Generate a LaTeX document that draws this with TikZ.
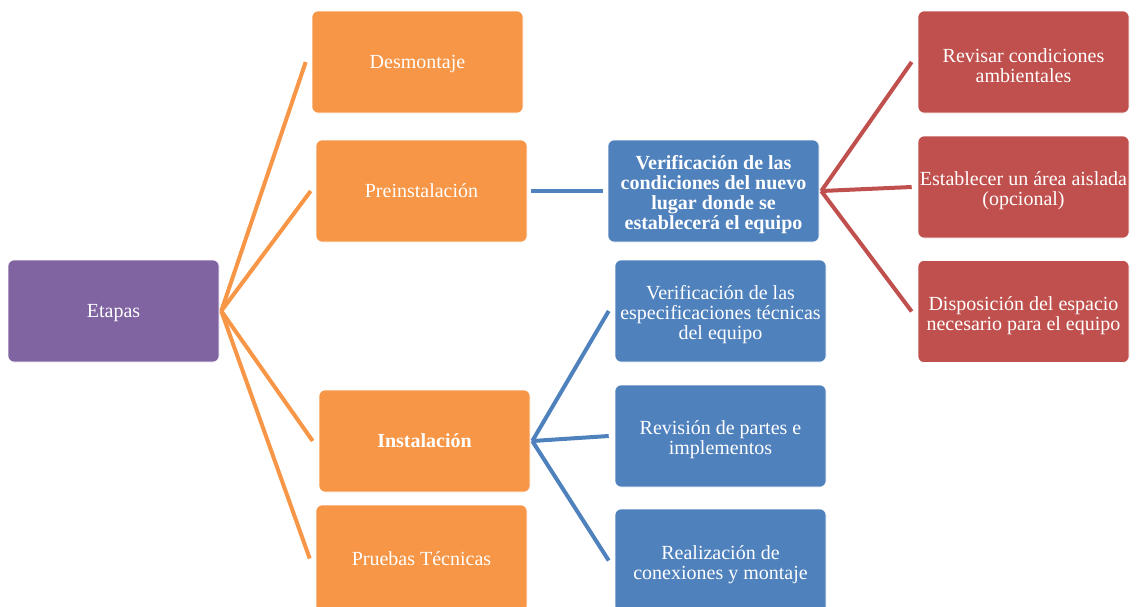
\documentclass[tikz,border=0pt]{standalone}
\usepackage{fontspec}
\setmainfont{Liberation Serif}
\definecolor{cOrange}{HTML}{F79646}
\definecolor{cPurple}{HTML}{8064A2}
\definecolor{cBlue}{HTML}{4F81BD}
\definecolor{cRed}{HTML}{C0504D}
\newcommand\zTop{\rule{0pt}{18pt}}
\newcommand\zBot{\rule[-4.5pt]{0pt}{4.5pt}}
\begin{document}
\begin{tikzpicture}[x=1pt,y=-1pt,
  box/.style={rectangle, rounded corners=6pt, draw=white, line width=0.6pt,
    minimum width=211pt, minimum height=102pt, text=white, align=center,
    font=\fontsize{20}{20}\selectfont, inner sep=2pt,
    execute at begin node=\zTop, execute at end node=\zBot},
  mlabel/.style={text=white, align=center, font=\fontsize{20}{20}\selectfont,
    inner sep=0pt, yshift=-4pt},
  mtext/.style={label={[mlabel]center:{#1}}},
  obox/.style={box, fill=cOrange},
  pbox/.style={box, fill=cPurple},
  bbox/.style={box, fill=cBlue},
  rbox/.style={box, fill=cRed},
  link/.style={line width=4pt},
  olink/.style={link, draw=cOrange},
  blink/.style={link, draw=cBlue},
  rlink/.style={link, draw=cRed}]
\useasboundingbox (0,0) rectangle (1136,606);
% nodes
\node[pbox] (eta) at (113.5,311) {Etapas};
\node[obox] (des) at (417.5,62) {Desmontaje};
\node[obox] (pre) at (421.5,191) {Preinstalación};
\node[obox] (ins) at (424.5,441) {\textbf{Instalación}};
\node[obox, minimum height=107pt] (pru) at (421.5,558.5) {Pruebas Técnicas};
\node[bbox, mtext={\textbf{Verificación de las}\\\textbf{condiciones del nuevo}\\\textbf{lugar donde se}\\\textbf{establecerá el equipo}}] (ver) at (713.5,191) {};
\node[rbox, mtext={Revisar condiciones\\ambientales}] (r1) at (1023.5,62) {};
\node[rbox, mtext={Establecer un área aislada\\(opcional)}] (r2) at (1023.5,187) {};
\node[rbox, mtext={Disposición del espacio\\necesario para el equipo}] (r3) at (1023.5,311.5) {};
\node[bbox, mtext={Verificación de las\\especificaciones técnicas\\del equipo}] (b1) at (720.5,311) {};
\node[bbox, mtext={Revisión de partes e\\implementos}] (b2) at (720.5,436) {};
\node[bbox, minimum height=103pt, mtext={Realización de\\conexiones y montaje}] (b3) at (720.5,560.5) {};
% connectors
\coordinate (eo) at ([xshift=2pt]eta.east);
\draw[olink] (eo) -- ([xshift=-6pt]des.west);
\draw[olink] (eo) -- ([xshift=-5pt]pre.west);
\draw[olink] (eo) -- ([xshift=-6pt]ins.west);
\draw[olink] (eo) -- ([xshift=-6pt]pru.west);
\draw[blink] ([xshift=4pt]pre.east) -- ([xshift=-5pt]ver.west);
\coordinate (vo) at ([xshift=2pt]ver.east);
\draw[rlink] (vo) -- ([xshift=-6pt]r1.west);
\draw[rlink] (vo) -- ([xshift=-6pt]r2.west);
\draw[rlink] (vo) -- ([xshift=-6pt]r3.west);
\coordinate (io) at ([xshift=2pt]ins.east);
\draw[blink] (io) -- ([xshift=-6pt]b1.west);
\draw[blink] (io) -- ([xshift=-6pt]b2.west);
\draw[blink] (io) -- ([xshift=-6pt]b3.west);
\end{tikzpicture}
\end{document}
